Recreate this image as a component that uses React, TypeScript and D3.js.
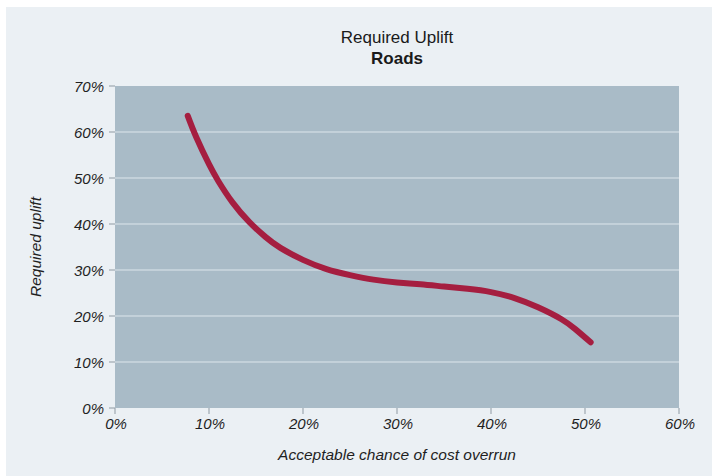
import React from "react";
import * as d3 from "d3";

// Acceptable chance of cost overrun (%) and the matching required uplift (%)
const overrunChance = [7.74, 8.66, 10, 11, 12.5, 14.3, 16, 17.6, 20, 22.5, 25, 27.5, 30, 32.5, 35, 37.5, 40, 42.5, 45, 47.5, 49, 50.6];
const requiredUplift = [63.5, 58.8, 53.0, 49.3, 44.7, 40.4, 37.2, 34.8, 32.2, 30.2, 28.9, 27.9, 27.3, 26.9, 26.4, 25.9, 25.2, 23.9, 21.9, 19.3, 17.1, 14.3];

const xTicks = [0, 10, 20, 30, 40, 50, 60];
const yTicks = [0, 10, 20, 30, 40, 50, 60, 70];

const titleLine1 = "Required Uplift";
const titleLine2 = "Roads";
const xLabel = "Acceptable chance of cost overrun";
const yLabel = "Required uplift";

const W = 712;
const H = 476;
const plot = { left: 115, right: 679, top: 86, bottom: 408 };
const FONT = "'Liberation Sans', Arial, Helvetica, sans-serif";

export default function App() {
  const x = d3.scaleLinear().domain([0, 60]).range([plot.left, plot.right]);
  const y = d3.scaleLinear().domain([0, 70]).range([plot.bottom, plot.top]);

  const points = overrunChance.map((v, i) => [v, requiredUplift[i]] as [number, number]);
  const line = d3
    .line<[number, number]>()
    .x((d) => x(d[0]))
    .y((d) => y(d[1]))
    .curve(d3.curveNatural);

  return (
    <svg
      width={W}
      height={H}
      style={{ position: "absolute", left: 0, top: 0, display: "block" }}
      fontFamily={FONT}
    >
      <rect x={0} y={0} width={W} height={H} fill="#ffffff" />
      <rect x={6} y={7} width={W - 6} height={H - 7} fill="#ebf0f4" />

      <text x={397} y={43} textAnchor="middle" fontSize={17} fill="#1a1a1a">
        {titleLine1}
      </text>
      <text x={397} y={64} textAnchor="middle" fontSize={17} fontWeight="bold" fill="#1a1a1a">
        {titleLine2}
      </text>

      <rect
        x={plot.left}
        y={plot.top}
        width={plot.right - plot.left}
        height={plot.bottom - plot.top}
        fill="#a9bbc7"
      />

      {yTicks
        .filter((t) => t > 0 && t < 70)
        .map((t) => (
          <line
            key={"g" + t}
            x1={plot.left}
            x2={plot.right}
            y1={y(t)}
            y2={y(t)}
            stroke="#dde6ec"
            strokeWidth={1}
          />
        ))}

      {yTicks.map((t) => (
        <g key={"y" + t}>
          <line x1={plot.left - 6} x2={plot.left} y1={y(t)} y2={y(t)} stroke="#8f9aa3" strokeWidth={1} />
          <text
            x={plot.left - 11}
            y={y(t) + 5.5}
            textAnchor="end"
            fontSize={15}
            fontStyle="italic"
            fill="#1f1f1f"
          >
            {t}%
          </text>
        </g>
      ))}

      {xTicks.map((t) => (
        <g key={"x" + t}>
          <line x1={x(t)} x2={x(t)} y1={plot.bottom} y2={plot.bottom + 6} stroke="#8f9aa3" strokeWidth={1} />
          <text
            x={x(t) + 1}
            y={plot.bottom + 21}
            textAnchor="middle"
            fontSize={15}
            fontStyle="italic"
            fill="#1f1f1f"
          >
            {t}%
          </text>
        </g>
      ))}

      <path
        d={line(points) ?? ""}
        fill="none"
        stroke="#a51e40"
        strokeWidth={6}
        strokeLinecap="round"
        strokeLinejoin="round"
      />

      <text x={397} y={460} textAnchor="middle" fontSize={15.5} fontStyle="italic" fill="#1f1f1f">
        {xLabel}
      </text>
      <text
        transform={`translate(41, ${(plot.top + plot.bottom) / 2}) rotate(-90)`}
        textAnchor="middle"
        fontSize={15.5}
        fontStyle="italic"
        fill="#1f1f1f"
      >
        {yLabel}
      </text>
    </svg>
  );
}
